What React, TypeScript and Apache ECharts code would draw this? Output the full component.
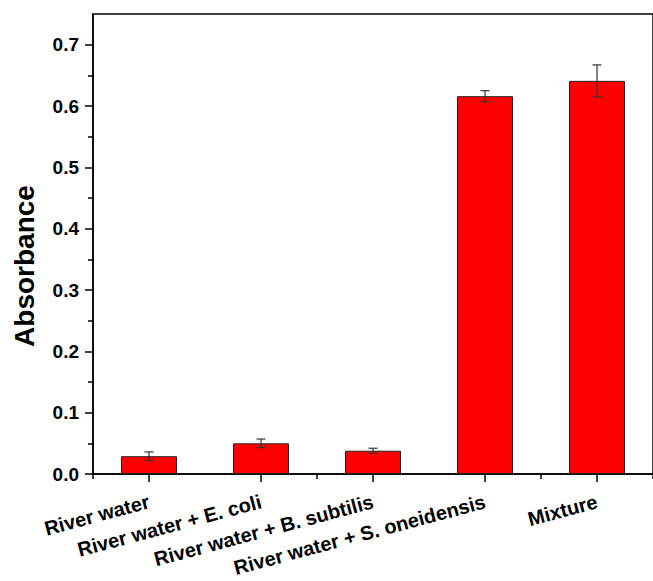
import React, { useEffect, useRef } from "react";
import * as echarts from "echarts";

const categories = [
  "River water",
  "River water + E. coli",
  "River water + B. subtilis",
  "River water + S. oneidensis",
  "Mixture",
];
const values = [0.029, 0.05, 0.038, 0.616, 0.641];
const errors = [0.007, 0.007, 0.004, 0.009, 0.026];
const majorTicks = [0, 0.1, 0.2, 0.3, 0.4, 0.5, 0.6, 0.7];
const minorTicks = [0.05, 0.15, 0.25, 0.35, 0.45, 0.55, 0.65];
const yTitle = "Absorbance";

const FONT = "'Liberation Sans', Arial, sans-serif";

export default function App() {
  const ref = useRef<HTMLDivElement>(null);
  useEffect(() => {
    if (!ref.current) return;
    const chart = echarts.init(ref.current, undefined, { renderer: "svg" });
    const errData = categories.map((_, i) => [i, values[i], errors[i]]);
    chart.setOption({
      animation: false,
      backgroundColor: "#fff",
      grid: {
        left: 93,
        top: 14,
        width: 567,
        height: 460,
        show: true,
        borderColor: "#000",
        borderWidth: 1.5,
        backgroundColor: "transparent",
      },
      graphic: [
        {
          type: "text",
          x: 24,
          y: 266,
          rotation: Math.PI / 2,
          style: {
            text: yTitle,
            font: `bold 28px ${FONT}`,
            fill: "#000",
            align: "center",
            verticalAlign: "middle",
          },
        },
      ],
      xAxis: [
        {
          type: "category",
          data: categories,
          position: "bottom",
          axisLine: { show: true, lineStyle: { color: "#000", width: 1.5 } },
          axisTick: { show: true, alignWithLabel: true, length: 8, lineStyle: { color: "#000", width: 1.5 } },
          axisLabel: {
            rotate: 15,
            margin: 27,
            interval: 0,
            color: "#000",
            fontFamily: FONT,
            fontWeight: "bold",
            fontSize: 20,
          },
          splitLine: { show: false },
        },
        {
          type: "category",
          data: categories,
          position: "bottom",
          offset: 0,
          axisLine: { show: false },
          axisTick: { show: true, length: 5, lineStyle: { color: "#000", width: 1.5 } },
          axisLabel: { show: false },
          splitLine: { show: false },
        },
      ],
      yAxis: [
        {
          type: "value",
          min: 0,
          max: 0.75,
          position: "left",
          axisLine: { show: true, lineStyle: { color: "#000", width: 1.5 } },
          axisTick: { show: true, length: 8, customValues: majorTicks, lineStyle: { color: "#000", width: 1.5 } },
          axisLabel: {
            customValues: majorTicks,
            margin: 14,
            color: "#000",
            fontFamily: FONT,
            fontWeight: "bold",
            fontSize: 19,
            formatter: (v: number) => v.toFixed(1),
          },
          splitLine: { show: false },
        },
        {
          type: "value",
          min: 0,
          max: 0.75,
          position: "left",
          offset: 0,
          axisLine: { show: false },
          axisTick: { show: true, length: 5, customValues: minorTicks, lineStyle: { color: "#000", width: 1.5 } },
          axisLabel: { show: false },
          splitLine: { show: false },
        },
      ],
      series: [
        {
          type: "bar",
          xAxisIndex: 0,
          yAxisIndex: 0,
          data: values,
          barWidth: "50%",
          itemStyle: { color: "#ff0000", borderColor: "#222", borderWidth: 1 },
        },
        {
          type: "custom",
          xAxisIndex: 0,
          yAxisIndex: 0,
          data: errData,
          z: 10,
          renderItem: (params: any, api: any) => {
            const x = api.value(0);
            const v = api.value(1);
            const e = api.value(2);
            const top = api.coord([x, v + e]);
            const bot = api.coord([x, v - e]);
            const h = 4.5;
            const style = { stroke: "#333", lineWidth: 1.2 };
            return {
              type: "group",
              children: [
                { type: "line", shape: { x1: top[0], y1: top[1], x2: bot[0], y2: bot[1] }, style },
                { type: "line", shape: { x1: top[0] - h, y1: top[1], x2: top[0] + h, y2: top[1] }, style },
                { type: "line", shape: { x1: bot[0] - h, y1: bot[1], x2: bot[0] + h, y2: bot[1] }, style },
              ],
            };
          },
        },
      ],
    });
    return () => chart.dispose();
  }, []);
  return (
    <div
      ref={ref}
      style={{ position: "fixed", left: 0, top: 0, width: 653, height: 581 }}
    />
  );
}
